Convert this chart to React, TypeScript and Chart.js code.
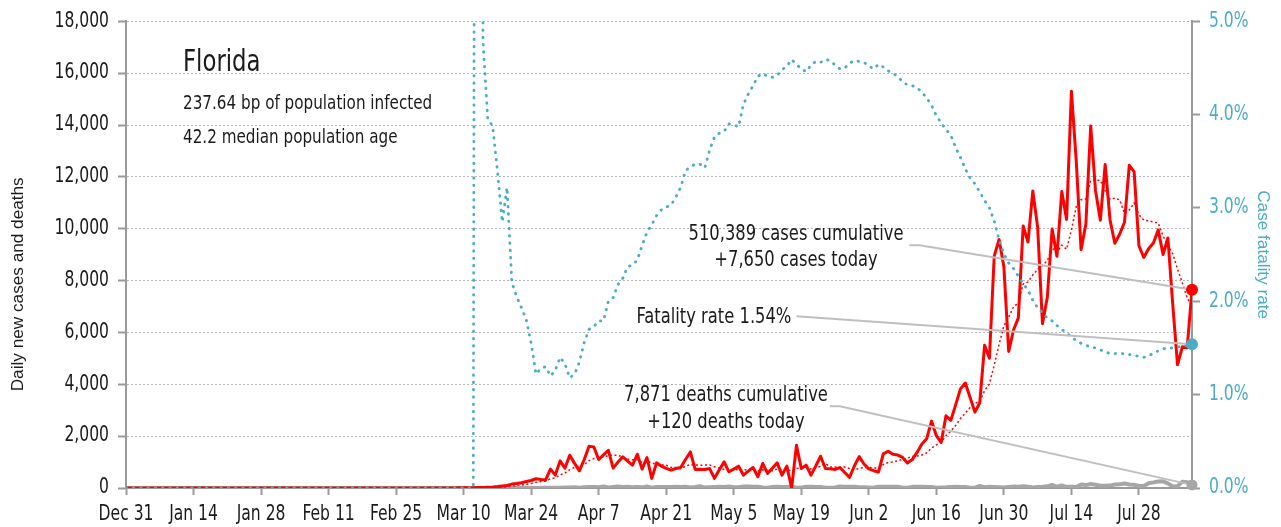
import React, { useEffect, useRef } from "react";
import { Chart, registerables } from "chart.js";

Chart.register(...registerables);

const FONT = '"Liberation Sans Narrow", "DejaVu Sans Condensed", "Arial Narrow", sans-serif';
const TITLE_FONT = '"Liberation Sans", Arial, sans-serif';
const SQUEEZE = 0.845;

// x tick labels (every 14 days starting Dec 31)
const TICK_LABELS = ["Dec 31", "Jan 14", "Jan 28", "Feb 11", "Feb 25", "Mar 10", "Mar 24", "Apr 7", "Apr 21", "May 5", "May 19", "Jun 2", "Jun 16", "Jun 30", "Jul 14", "Jul 28"];
const TICK_DAYS = [0, 14, 28, 42, 56, 70, 84, 98, 112, 126, 140, 154, 168, 182, 196, 210];

// daily new cases, one value per day from Dec 31
const CASES = [
  0, 0, 0, 0, 0, 0, 0, 0, 0, 0, 0, 0, 0, 0, 0, 0, 0, 0, 0, 0,
  0, 0, 0, 0, 0, 0, 0, 0, 0, 0, 0, 0, 0, 0, 0, 0, 0, 0, 0, 0,
  0, 0, 0, 0, 0, 0, 0, 0, 0, 0, 0, 0, 0, 0, 0, 0, 0, 0, 0, 0,
  0, 0, 0,
  2, 0, 1, 3, 2, 4, 5, 7, 9, 12, 15, 22,
  30, 40, 55, 77, 100, 150, 170, 200, 250, 290,
  356, 330, 310, 728, 498, 1046, 766, 1264, 950, 663,
  1100, 1608, 1582, 1098, 1280, 1455, 766, 1000, 1200, 1040,
  881, 1302, 728, 1175, 371, 970, 842, 760, 689, 753,
  792, 1100, 1391, 715, 720, 715, 750, 371, 700, 1008,
  625, 730, 842, 498, 650, 792, 434, 945, 562, 760,
  970, 498, 842, 0, 1647, 753, 881, 498, 850, 1226,
  753, 740, 715, 790, 600, 409, 850, 1212, 927, 739,
  667, 617, 1317, 1419, 1305, 1270, 1180, 966, 1096, 1371,
  1698, 1902, 2581, 2016, 1758, 2783, 2610, 3207, 3822, 4049,
  3494, 2926, 3289, 5508, 5004, 8942, 9585, 8530, 5266, 6093,
  6563, 10109, 9488, 11458, 10059, 6336, 7347, 9989, 8935, 11433,
  10360, 15300, 12624, 9194, 10181, 13965, 11466, 10328, 12478, 10347,
  9440, 9785, 10249, 12444, 12199, 9344, 8892, 9230, 9446, 9956,
  9007, 9642, 7104, 4752, 5446, 5409, 7650,
];

// 7-day average of new cases (dotted red)
const CASES_AVG = [
  0, 0, 0, 0, 0, 0, 0, 0, 0, 0, 0, 0, 0, 0, 0, 0, 0, 0, 0, 0,
  0, 0, 0, 0, 0, 0, 0, 0, 0, 0, 0, 0, 0, 0, 0, 0, 0, 0, 0, 0,
  0, 0, 0, 0, 0, 0, 0, 0, 0, 0, 0, 0, 0, 0, 0, 0, 0, 0, 0, 0,
  0, 0, 0,
  0.3, 0.3, 0.4, 0.9, 1.1, 1.7, 2.4, 3.1, 4.4, 6, 7.7, 10.6,
  14, 19, 26, 36, 48, 68, 89, 113, 143, 177,
  217, 249, 272, 352, 395, 508, 576, 706, 795, 845,
  898, 1057, 1133, 1181, 1183, 1255, 1270, 1256, 1197, 1120,
  1089, 1092, 988, 1047, 957, 924, 896, 878, 791, 794,
  740, 844, 904, 886, 880, 884, 883, 823, 766, 711,
  698, 700, 718, 682, 722, 735, 653, 699, 675, 663,
  730, 709, 716, 654, 754, 781, 799, 731, 782, 836,
  944, 814, 809, 796, 811, 748, 694, 759, 786, 790,
  772, 774, 904, 985, 999, 1048, 1111, 1153, 1222, 1230,
  1269, 1355, 1542, 1661, 1775, 2016, 2193, 2408, 2682, 2892,
  3103, 3270, 3342, 3756, 4013, 4745, 5535, 6255, 6589, 6990,
  7140, 7870, 7948, 8215, 8434, 8587, 8766, 9255, 9087, 9365,
  9208, 9957, 10855, 11119, 11147, 11865, 11870, 11865, 11462, 11137,
  11172, 11116, 10585, 10724, 10992, 10544, 10336, 10306, 10258, 10216,
  9725, 9360, 9040, 8448, 7908, 7331, 7001,
];

// daily deaths (grey)
const DEATHS = [
  0, 0, 0, 0, 0, 0, 0, 0, 0, 0, 0, 0, 0, 0, 0, 0, 0, 0, 0, 0,
  0, 0, 0, 0, 0, 0, 0, 0, 0, 0, 0, 0, 0, 0, 0, 0, 0, 0, 0, 0,
  0, 0, 0, 0, 0, 0, 0, 0, 0, 0, 0, 0, 0, 0, 0, 0, 0, 0, 0, 0,
  0, 0, 0, 0, 0, 0, 0, 0,
  2, 0, 0, 0, 0, 1, 0,
  2, 1, 0, 2, 3, 2, 4, 3, 5, 5,
  4, 8, 6, 12, 11, 14, 17, 22, 29, 14,
  28, 35, 41, 29, 59, 24, 40, 60, 36, 53,
  26, 37, 25, 58, 14, 40, 34, 38, 40, 45,
  40, 49, 22, 37, 72, 17, 29, 43, 49, 43,
  62, 30, 29, 55, 59, 50, 49, 18, 11, 37,
  48, 39, 38, 46, 9, 15, 48, 51, 39, 40,
  8, 7, 20, 61, 53, 46, 49, 28, 25, 18,
  12, 51, 48, 45, 45, 49, 9, 9, 44, 45,
  48, 41, 43, 10, 23, 25, 43, 45, 43, 38,
  7, 14, 77, 31, 44, 39, 28, 20, 38, 58,
  45, 67, 47, 18, 38, 48, 63, 120, 48, 95,
  45, 45, 35, 132, 112, 156, 128, 90, 89, 92,
  134, 140, 173, 135, 124, 77, 77, 186, 216, 253,
  257, 179, 62, 73, 245, 225, 120,
];

// case fatality rate, % (dotted blue, right axis)
const CFR = [
  0, 0, 0, 0, 0, 0, 0, 0, 0, 0, 0, 0, 0, 0, 0, 0, 0, 0, 0, 0,
  0, 0, 0, 0, 0, 0, 0, 0, 0, 0, 0, 0, 0, 0, 0, 0, 0, 0, 0, 0,
  0, 0, 0, 0, 0, 0, 0, 0, 0, 0, 0, 0, 0, 0, 0, 0, 0, 0, 0, 0,
  0, 0, 0, 0, 0, 0, 0, 0, 0, 0, 0, 0, 0,
  30, 4.8,
  3.95, 3.88, 3.4, 2.85, 3.22, 2.2, 2.05, 1.93, 1.8, 1.55,
  1.22, 1.28, 1.3, 1.2, 1.26, 1.4, 1.33, 1.18, 1.22, 1.35,
  1.56, 1.7, 1.73, 1.79, 1.79, 2.0, 2.04, 2.18, 2.25, 2.37,
  2.39, 2.44, 2.6, 2.74, 2.82, 2.92, 2.98, 3.01, 3.03, 3.12,
  3.22, 3.4, 3.44, 3.47, 3.47, 3.43, 3.62, 3.76, 3.8, 3.82,
  3.9, 3.89, 3.87, 4.11, 4.22, 4.31, 4.41, 4.44, 4.41, 4.4,
  4.42, 4.48, 4.52, 4.59, 4.54, 4.49, 4.46, 4.53, 4.57, 4.56,
  4.59, 4.58, 4.53, 4.49, 4.5, 4.55, 4.58, 4.57, 4.56, 4.52,
  4.49, 4.54, 4.51, 4.47, 4.44, 4.41, 4.35, 4.32, 4.31, 4.29,
  4.24, 4.18, 4.1, 3.99, 3.91, 3.84, 3.78, 3.65, 3.54, 3.42,
  3.32, 3.26, 3.17, 3.08, 3.0, 2.86, 2.66, 2.51, 2.41, 2.35,
  2.27, 2.19, 2.12, 2.01, 1.93, 1.88, 1.82, 1.79, 1.74, 1.7,
  1.66, 1.62, 1.58, 1.55, 1.53, 1.51, 1.5, 1.48, 1.46, 1.44,
  1.44, 1.44, 1.44, 1.43, 1.42, 1.41, 1.4, 1.42, 1.44, 1.47,
  1.49, 1.5, 1.5, 1.51, 1.52, 1.53, 1.54,
];

const TITLE = "Florida";
const SUBTITLE = ["237.64 bp of population infected", "42.2 median population age"];
const CASES_NOTE = ["510,389 cases cumulative", "+7,650 cases today"];
const CFR_NOTE = "Fatality rate 1.54%";
const DEATHS_NOTE = ["7,871 deaths cumulative", "+120 deaths today"];
const LEFT_TITLE = "Daily new cases and deaths";
const RIGHT_TITLE = "Case fatality rate";

const RED = "#ff0000";
const BLUE = "#4bacc6";
const GREY = "#a6a6a6";
const LEADER = "#bfbfbf";
const AXIS = "#9a9a9a";
const TEXT = "#1a1a1a";

const toXY = (arr: number[]) => arr.map((v, i) => ({ x: i, y: v }));

const notesPlugin = {
  id: "notes",
  afterDatasetsDraw(chart: any) {
    const { ctx, chartArea, scales } = chart;
    const L = chartArea.left;
    const T = chartArea.top;
    const last = CASES.length - 1;
    const xEnd = scales.x.getPixelForValue(last);
    const yCase = scales.y.getPixelForValue(CASES[last]);
    const yDeath = scales.y.getPixelForValue(DEATHS[last]);
    const yCfr = scales.y2.getPixelForValue(CFR[last]);
    const halfW = (t: string) => (ctx.measureText(t).width * SQUEEZE) / 2;

    ctx.save();
    // left axis title
    ctx.save();
    ctx.fillStyle = TEXT;
    ctx.font = `17.2px ${TITLE_FONT}`;
    ctx.textAlign = "center";
    ctx.textBaseline = "middle";
    ctx.translate(18, T + 263);
    ctx.rotate(-Math.PI / 2);
    ctx.fillText(LEFT_TITLE, 0, 0);
    ctx.restore();

    ctx.fillStyle = TEXT;
    ctx.textBaseline = "alphabetic";
    ctx.textAlign = "left";
    ctx.font = `30px ${FONT}`;
    ctx.fillText(TITLE, L + 57, T + 50);
    ctx.font = `20px ${FONT}`;
    ctx.fillText(SUBTITLE[0], L + 57, T + 88);
    ctx.fillText(SUBTITLE[1], L + 57, T + 122);

    ctx.textAlign = "center";
    ctx.font = `21.5px ${FONT}`;
    // cases note
    const cCx = L + 670;
    ctx.fillText(CASES_NOTE[0], cCx, T + 219);
    ctx.fillText(CASES_NOTE[1], cCx, T + 245);
    const cRight = cCx + halfW(CASES_NOTE[0]) + 6;
    // cfr note
    const fCx = L + 588;
    ctx.fillText(CFR_NOTE, fCx, T + 302);
    const fRight = fCx + halfW(CFR_NOTE) + 5;
    // deaths note
    const dCx = L + 600;
    ctx.fillText(DEATHS_NOTE[0], dCx, T + 380);
    ctx.fillText(DEATHS_NOTE[1], dCx, T + 407);
    const dRight = dCx + halfW(DEATHS_NOTE[0]) + 2;

    ctx.strokeStyle = LEADER;
    ctx.lineWidth = 2;
    ctx.beginPath();
    ctx.moveTo(cRight, T + 224);
    ctx.lineTo(cRight + 10, T + 224);
    ctx.lineTo(xEnd, yCase);
    ctx.moveTo(fRight, T + 295);
    ctx.lineTo(xEnd, yCfr);
    ctx.moveTo(dRight, T + 385);
    ctx.lineTo(dRight + 10, T + 385);
    ctx.lineTo(xEnd, yDeath);
    ctx.stroke();

    const dot = (y: number, color: string, r: number) => {
      ctx.fillStyle = color;
      ctx.beginPath();
      ctx.arc(xEnd, y, r, 0, Math.PI * 2);
      ctx.fill();
    };
    dot(yDeath, GREY, 5.5);
    dot(yCfr, BLUE, 6);
    dot(yCase, RED, 6);
    ctx.restore();
  },
};

export default function App() {
  const ref = useRef<HTMLCanvasElement | null>(null);

  useEffect(() => {
    document.body.style.margin = "0";
    const canvas = ref.current;
    if (!canvas) return;
    // the reference uses a condensed face: draw the condensed texts horizontally narrowed
    const c2d = canvas.getContext("2d") as any;
    const origFill = c2d.fillText.bind(c2d);
    c2d.fillText = (t: string, x: number, y: number, mw?: number) => {
      const condensed = String(c2d.font).includes("Condensed");
      const w = c2d.measureText(t).width * (condensed ? SQUEEZE : 1);
      origFill(t, x, y, mw !== undefined && mw !== null ? Math.min(mw, w) : w);
    };

    const chart = new Chart(canvas, {
      type: "line",
      data: {
        datasets: [
          {
            label: "Case fatality rate",
            data: toXY(CFR),
            yAxisID: "y2",
            borderColor: BLUE,
            borderWidth: 2.8,
            borderDash: [0.5, 6.8],
            borderCapStyle: "round",
            pointRadius: 0,
            tension: 0,
            order: 1,
          },
          {
            label: "Daily new cases",
            data: toXY(CASES),
            yAxisID: "y",
            borderColor: RED,
            borderWidth: 3,
            borderJoinStyle: "round",
            pointRadius: 0,
            tension: 0,
            order: 2,
          },
          {
            label: "7-day average",
            data: toXY(CASES_AVG),
            yAxisID: "y",
            borderColor: RED,
            borderWidth: 1.5,
            borderDash: [2, 2.5],
            pointRadius: 0,
            tension: 0,
            order: 3,
          },
          {
            label: "Daily deaths",
            data: toXY(DEATHS),
            yAxisID: "y",
            borderColor: GREY,
            borderWidth: 4,
            borderJoinStyle: "round",
            pointRadius: 0,
            tension: 0,
            order: 4,
          },
        ],
      },
      options: {
        responsive: false,
        animation: false,
        layout: { padding: { top: 18, left: 0, right: 0, bottom: 0 } },
        plugins: { legend: { display: false }, tooltip: { enabled: false } },
        scales: {
          x: {
            type: "linear",
            min: 0,
            max: CASES.length - 1,
            afterBuildTicks: (s: any) => {
              s.ticks = TICK_DAYS.map((v) => ({ value: v }));
            },
            afterFit: (s: any) => {
              s.height = 39;
            },
            ticks: {
              autoSkip: false,
              maxRotation: 0,
              color: TEXT,
              padding: 7,
              font: { family: FONT, size: 20.5 },
              callback: (v: any) => TICK_LABELS[TICK_DAYS.indexOf(Number(v))],
            },
            grid: {
              display: true,
              drawOnChartArea: false,
              drawTicks: true,
              tickLength: 7,
              tickColor: AXIS,
              tickWidth: 2,
            },
            border: { display: true, color: AXIS, width: 2 },
          },
          y: {
            type: "linear",
            position: "left",
            min: 0,
            max: 18000,
            afterFit: (s: any) => {
              s.width = 126;
            },
            ticks: {
              stepSize: 2000,
              color: TEXT,
              padding: 9,
              font: { family: FONT, size: 20.5 },
              callback: (v: any) => Number(v).toLocaleString("en-US"),
            },
            grid: {
              color: "#b5b5b5",
              lineWidth: 1,
              drawTicks: true,
              tickLength: 8,
              tickColor: AXIS,
              tickWidth: 2,
              tickBorderDash: [],
            },
            border: { display: true, color: AXIS, width: 2, dash: [2, 2] },
          },
          y2: {
            type: "linear",
            position: "right",
            min: 0,
            max: 5,
            afterFit: (s: any) => {
              s.width = 89;
            },
            ticks: {
              stepSize: 1,
              color: BLUE,
              padding: 9,
              font: { family: FONT, size: 20.5 },
              callback: (v: any) => Number(v).toFixed(1) + "%",
            },
            grid: {
              display: true,
              drawOnChartArea: false,
              drawTicks: true,
              tickLength: 8,
              tickColor: AXIS,
              tickWidth: 2,
            },
            border: { display: true, color: AXIS, width: 2 },
            title: {
              display: true,
              text: RIGHT_TITLE,
              color: BLUE,
              font: { family: TITLE_FONT, size: 17.2 },
              padding: { top: 8, bottom: 4 },
            },
          },
        },
      },
      plugins: [notesPlugin],
    } as any);
    return () => {
      chart.destroy();
      c2d.fillText = origFill;
    };
  }, []);

  return (
    <div style={{ width: 1281, height: 527, background: "#fff" }}>
      <canvas ref={ref} width={1281} height={527} style={{ display: "block" }} />
    </div>
  );
}
